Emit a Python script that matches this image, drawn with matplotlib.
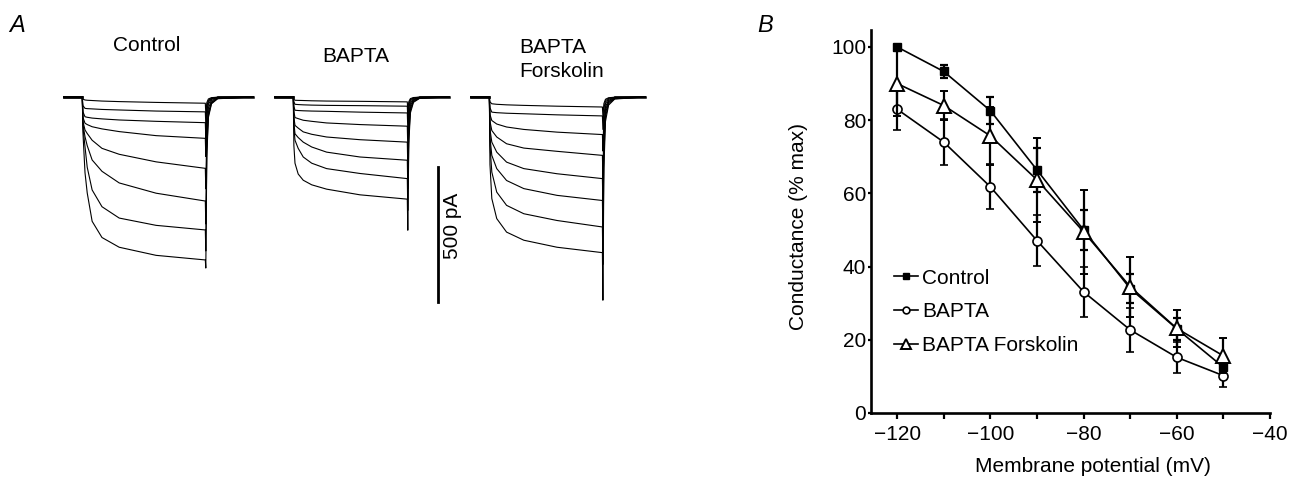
import matplotlib
matplotlib.use('Agg')
import matplotlib.pyplot as plt
from matplotlib.lines import Line2D

plt.rcParams['font.family'] = ['Liberation Sans', 'DejaVu Sans']
plt.rcParams['font.size'] = 15

# ---- panel A: current traces (pA, inward shown downward), times in ms from step onset
ctrl_t = [0, 5, 22, 40, 80, 160, 300, 600, 1000]
ctrl_traces = [
    [0, 8, 11, 12, 13, 15, 17, 20, 23],
    [0, 32, 42, 43, 44, 46, 48, 52, 55],
    [0, 55, 73, 75, 78, 81, 85, 90, 95],
    [0, 75, 97, 102, 110, 118, 128, 143, 153],
    [0, 90, 122, 135, 160, 190, 212, 240, 264],
    [0, 100, 147, 180, 233, 275, 318, 356, 385],
    [0, 110, 184, 260, 344, 406, 448, 475, 492],
    [0, 130, 280, 355, 460, 520, 556, 586, 603],
]
ctrl_tail = [60, 100, 150, 220, 340, 470, 570, 633]

bapta_t = [0, 5, 14, 40, 81, 150, 271, 542, 927]
bapta_traces = [
    [0, 8, 12, 12.5, 13, 14, 15, 16, 18],
    [0, 18, 27, 28, 29, 30, 31, 32, 34],
    [0, 35, 49, 50, 51, 52, 53, 56, 59],
    [0, 55, 76, 80, 86, 90, 96, 102, 108],
    [0, 75, 105, 115, 129, 138, 148, 158, 167],
    [0, 95, 136, 150, 167, 185, 204, 222, 234],
    [0, 115, 160, 190, 222, 245, 265, 283, 302],
    [0, 180, 245, 285, 308, 325, 341, 362, 378],
]
bapta_tail = [50, 80, 120, 190, 260, 340, 420, 493]

forsk_t = [0, 5, 20, 60, 140, 280, 550, 919]
forsk_traces = [
    [0, 18, 25, 27, 29, 31, 34, 37],
    [0, 40, 56, 58, 60, 62, 66, 70],
    [0, 65, 87, 100, 111, 120, 130, 139],
    [0, 90, 124, 148, 173, 189, 201, 216],
    [0, 120, 167, 204, 241, 265, 284, 302],
    [0, 150, 216, 265, 309, 339, 364, 383],
    [0, 180, 278, 352, 401, 432, 457, 481],
    [0, 250, 376, 450, 500, 530, 556, 576],
]
forsk_tail = [70, 120, 200, 300, 400, 500, 620, 752]

# tail current decay after the step (ms after step end, fraction of tail peak)
tail_t = [4, 12, 25, 50, 100]
tail_frac = [1.0, 0.35, 0.12, 0.04, 0.01]

# ---- panel B: conductance vs membrane potential
V = [-120, -110, -100, -90, -80, -70, -60, -50]
ctrl_g = [100, 93.3, 82.6, 66.4, 50, 34, 23, 12.5]
ctrl_err = [0, 1.7, 3.6, 5.9, 5.5, 4, 3, 2]
bapta_g = [83, 74, 61.8, 47.1, 33.1, 22.7, 15.2, 10.2]
bapta_err = [5.8, 6.2, 6.1, 6.9, 6.9, 6.0, 4.2, 3.0]
forsk_g = [90, 84, 75.7, 63.7, 49.5, 34.5, 23.1, 15.6]
forsk_err = [9, 4, 8, 11.4, 11.5, 8.2, 5.0, 4.8]

fig = plt.figure(figsize=(13.01, 4.78), dpi=100)

axA = fig.add_axes([0, 0, 0.54, 1])
axA.set_xlim(-669, 5042)
axA.set_ylim(-1410, 359)
axA.axis('off')

groups = [
    (0, ctrl_t, ctrl_traces, ctrl_tail, 390),
    (1715, bapta_t, bapta_traces, bapta_tail, 340),
    (3309, forsk_t, forsk_traces, forsk_tail, 350),
]
for off, tt, traces, tails, post in groups:
    dur = tt[-1]
    for vals, pk in zip(traces, tails):
        x = [-150] + tt + [dur + s for s in tail_t] + [dur + post]
        y = [0] + vals + [pk * f for f in tail_frac] + [0]
        axA.plot([off + xi for xi in x], [-yi for yi in y], color='black', lw=0.8)
    axA.plot([off - 150, off], [0, 0], color='black', lw=2)
    axA.plot([off + dur + 100, off + dur + post], [0, 0], color='black', lw=1.8)

axA.text(526, 192, 'Control', ha='center', va='center', fontsize=15)
axA.text(2220, 149, 'BAPTA', ha='center', va='center', fontsize=15)
axA.text(3555, 140, 'BAPTA\nForskolin', ha='left', va='center', fontsize=15,
         linespacing=1.35)

# scale bar
axA.plot([2889, 2889], [-258, -758], color='black', lw=2)
axA.text(3006, -476, '500 pA', rotation=90, ha='center', va='center', fontsize=15)

fig.text(17 / 1301, 1 - 25.5 / 478, 'A', style='italic', fontsize=17,
         ha='center', va='center')
fig.text(765.5 / 1301, 1 - 25.5 / 478, 'B', style='italic', fontsize=17,
         ha='center', va='center')

axB = fig.add_axes([0.6695, 0.136, 0.3067, 0.801])
eb = dict(color='black', lw=1.2, elinewidth=1.6, capsize=3, capthick=1.6)
styles = [
    dict(marker='s', ms=5.5, mfc='black', mec='black'),
    dict(marker='o', ms=6.5, mfc='white', mec='black', mew=1.2),
    dict(marker='^', ms=9.5, mfc='white', mec='black', mew=1.4),
]
series = [(ctrl_g, ctrl_err, 'Control'), (bapta_g, bapta_err, 'BAPTA'),
          (forsk_g, forsk_err, 'BAPTA Forskolin')]
handles = []
for z, ((g, err, name), st) in enumerate(zip(series, styles)):
    axB.errorbar(V, g, yerr=err, zorder=3 + z, **eb, **st)
    handles.append(Line2D([], [], color='black', lw=1.2, label=name, **st))

axB.set_xlim(-125.6, -40)
axB.set_ylim(0, 104.6)
axB.set_xticks([-120, -100, -80, -60, -40])
axB.set_xticks([-110, -90, -70, -50], minor=True)
axB.set_yticks([0, 20, 40, 60, 80, 100])
axB.tick_params(axis='x', which='both', direction='out', length=4.5, width=1.6,
                labelsize=15, pad=4)
axB.tick_params(axis='y', direction='out', length=2.5, width=1.6, labelsize=15, pad=1)
for s in ['top', 'right']:
    axB.spines[s].set_visible(False)
for s in ['left', 'bottom']:
    axB.spines[s].set_linewidth(1.9)

axB.set_xlabel('Membrane potential (mV)', fontsize=15)
axB.xaxis.set_label_coords(0.555, -0.115)
axB.set_ylabel('Conductance (% max)', fontsize=15)
axB.yaxis.set_label_coords(-0.158, 0.488)

axB.legend(handles=handles, loc='upper left', bbox_to_anchor=(0.058, 0.377),
           frameon=False, fontsize=15, handlelength=1.15, handletextpad=0.2,
           labelspacing=0.7, borderpad=0, borderaxespad=0, markerscale=0.75)

fig.savefig('out.png', dpi=100)
